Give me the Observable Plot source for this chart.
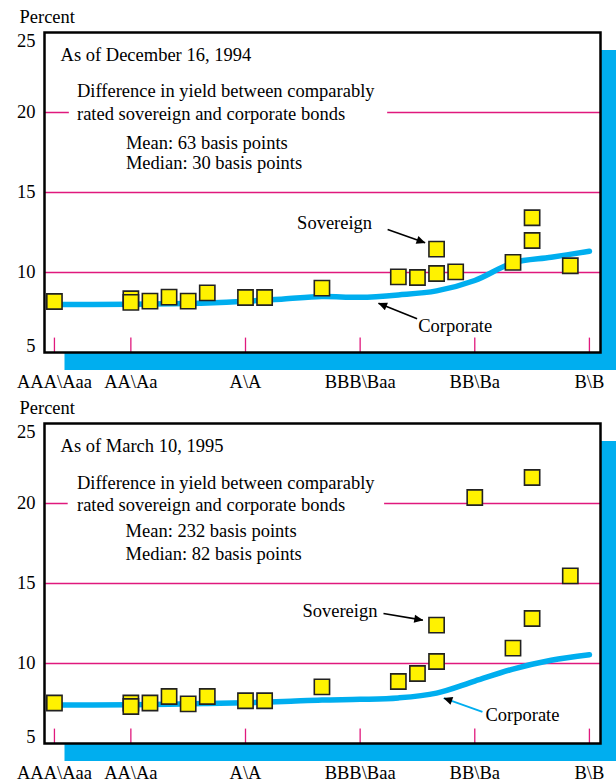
<!DOCTYPE html>
<html>
<head>
<meta charset="utf-8">
<script src="https://cdn.jsdelivr.net/npm/d3@7"></script>
<script src="https://cdn.jsdelivr.net/npm/@observablehq/plot@0.6"></script>
<style>
  html, body { margin: 0; padding: 0; background: #fff; }
  #chart svg { display: block; }
</style>
</head>
<body>
<div id="chart"></div>
<script>
// ---------- DATA ----------
const ratingNotch  = [0, 2, 5, 8, 11, 14];
const ratingLabels = ["AAA\\Aaa", "AA\\Aa", "A\\A", "BBB\\Baa", "BB\\Ba", "B\\B"];
const yTicks = [25, 20, 15, 10, 5];
const gridValues = [10, 15, 20];

// Corporate yield curve (by rating notch)
const corpNotch  = [0, 1, 2, 3, 4, 5, 6, 7, 8, 9, 10, 11, 12, 13, 14];
const corpYield1 = [8.0, 8.0, 8.02, 8.05, 8.1, 8.2, 8.35, 8.5, 8.45, 8.6, 8.85, 9.5, 10.6, 10.95, 11.33];
const corpYield2 = [7.4, 7.4, 7.42, 7.45, 7.5, 7.55, 7.62, 7.72, 7.76, 7.85, 8.15, 8.9, 9.65, 10.2, 10.55];

// Sovereign yields (by rating notch)
const sovNotch1 = [0, 2, 2, 2.5, 3, 3.5, 4, 5, 5.5, 7, 9, 9.5, 10, 10, 10.5, 12, 12.5, 12.5, 13.5];
const sovYield1 = [8.19, 8.36, 8.13, 8.21, 8.46, 8.21, 8.73, 8.44, 8.44, 9.02, 9.73, 9.69, 9.94, 11.46, 10.04, 10.63, 12.0, 13.42, 10.42];
const sovNotch2 = [0, 2, 2, 2.5, 3, 3.5, 4, 5, 5.5, 7, 9, 9.5, 10, 10, 11, 12, 12.5, 12.5, 13.5];
const sovYield2 = [7.53, 7.53, 7.31, 7.53, 7.94, 7.48, 7.94, 7.67, 7.67, 8.54, 8.875, 9.375, 10.125, 12.4, 20.375, 10.96, 21.625, 12.81, 15.48];

const notes1 = ["As of December 16, 1994", "Difference in yield between comparably", "rated sovereign and corporate bonds", "Mean: 63 basis points", "Median: 30 basis points"];
const notes2 = ["As of March 10, 1995", "Difference in yield between comparably", "rated sovereign and corporate bonds", "Mean: 232 basis points", "Median: 82 basis points"];
const seriesLabels = ["Sovereign", "Corporate"];

// ---------- LAYOUT / STYLE ----------
const BLUE = "#00aeef", PINK = "#e0197d", YELLOW = "#fff200";
const FONT = "Liberation Serif", FS = 18.5;

const layout1 = {
  noteX: [0.16, 0.59, 0.59, 1.87, 1.87],
  noteY: [23.56, 21.33, 19.92, 18.08, 16.81],
  gap: {x1: 0.39, x2: 8.72},
  labelX: [6.35, 9.52], labelY: [13.08, 6.64],
  arrows: [
    {x1: 8.72, y1: 12.69, x2: 9.70, y2: 11.86, color: "#000"},
    {x1: 9.49, y1: 7.11, x2: 8.48, y2: 8.08, color: "#000"}
  ]
};
const layout2 = {
  noteX: [0.16, 0.59, 0.59, 1.86, 1.86],
  noteY: [23.6, 21.25, 19.9, 18.25, 16.84],
  gap: {x1: 0.36, x2: 8.64},
  labelX: [6.49, 11.28], labelY: [13.29, 6.8],
  arrows: [
    {x1: 8.61, y1: 13.125, x2: 9.64, y2: 12.71, color: "#000"},
    {x1: 11.2, y1: 6.98, x2: 10.19, y2: 7.84, color: BLUE}
  ]
};

let markerCount = 0;
function addArrowHeads(svg) {
  const ns = "http://www.w3.org/2000/svg";
  const id = "arrowhead-" + (markerCount++);
  const defs = document.createElementNS(ns, "defs");
  const marker = document.createElementNS(ns, "marker");
  marker.setAttribute("id", id);
  marker.setAttribute("viewBox", "0 0 10 10");
  marker.setAttribute("refX", "9.5");
  marker.setAttribute("refY", "5");
  marker.setAttribute("markerWidth", "13");
  marker.setAttribute("markerHeight", "9");
  marker.setAttribute("markerUnits", "userSpaceOnUse");
  marker.setAttribute("orient", "auto");
  const path = document.createElementNS(ns, "path");
  path.setAttribute("d", "M0,0.5L10,5L0,9.5Z");
  path.setAttribute("fill", "#000");
  marker.appendChild(path);
  defs.appendChild(marker);
  svg.insertBefore(defs, svg.firstChild);
  svg.querySelectorAll('g[aria-label="link"] path, g[aria-label="link"] line').forEach(p => p.setAttribute("marker-end", `url(#${id})`));
}

function panel(corpYield, sovNotch, sovYield, notes, L) {
  const corp = corpNotch.map((n, i) => ({n, v: corpYield[i]}));
  const sov = sovNotch.map((n, i) => ({n, v: sovYield[i]}));
  const noteData = notes.map((t, i) => ({t, x: L.noteX[i], y: L.noteY[i]}));
  const labData = seriesLabels.map((t, i) => ({t, x: L.labelX[i], y: L.labelY[i]}));
  const textStyle = {fontFamily: FONT, fontSize: FS, fill: "#000"};
  const svg = Plot.plot({
    width: 616, height: 391,
    marginTop: 32, marginBottom: 39, marginLeft: 44, marginRight: 16,
    style: {fontFamily: FONT, fontSize: FS + "px", background: "white", overflow: "visible"},
    x: {domain: [-0.26, 14.29], axis: null},
    y: {domain: [5, 25], axis: null},
    marks: [
      Plot.frame({fill: BLUE, dx: 20, dy: 17.5}),
      Plot.frame({fill: "white"}),
      Plot.ruleY(gridValues, {stroke: PINK, strokeWidth: 1.3}),
      Plot.rect([L.gap], {x1: "x1", x2: "x2", y1: 19.6, y2: 20.4, fill: "white"}),
      Plot.ruleX(ratingNotch, {x: d => d, y1: 5, y2: 5.9, stroke: PINK, strokeWidth: 1.3}),
      Plot.line(corp, {x: "n", y: "v", stroke: BLUE, strokeWidth: 5.5, curve: "catmull-rom"}),
      Plot.dot(sov, {x: "n", y: "v", symbol: "square", r: 8.6, fill: YELLOW, stroke: "#222", strokeWidth: 1.6}),
      Plot.text(noteData, {x: "x", y: "y", text: "t", textAnchor: "start", lineAnchor: "middle", ...textStyle}),
      Plot.text(labData, {x: "x", y: "y", text: "t", textAnchor: "start", lineAnchor: "middle", ...textStyle}),
      Plot.link(L.arrows.filter(a => a.color === "#000"), {x1: "x1", y1: "y1", x2: "x2", y2: "y2", stroke: "#000", strokeWidth: 1.6}),
      Plot.link(L.arrows.filter(a => a.color !== "#000"), {x1: "x1", y1: "y1", x2: "x2", y2: "y2", stroke: BLUE, strokeWidth: 1.8}),
      Plot.frame({stroke: "#000", strokeWidth: 2.5}),
      Plot.text(yTicks.filter(v => v !== 25 && v !== 5), {y: d => d, text: d => String(d), frameAnchor: "left", dx: -9, textAnchor: "end", lineAnchor: "middle", ...textStyle}),
      Plot.text(yTicks.filter(v => v === 25), {y: d => d, text: d => String(d), frameAnchor: "left", dx: -9, dy: 9, textAnchor: "end", lineAnchor: "middle", ...textStyle}),
      Plot.text(yTicks.filter(v => v === 5), {y: d => d, text: d => String(d), frameAnchor: "left", dx: -9, dy: -6, textAnchor: "end", lineAnchor: "middle", ...textStyle}),
      Plot.text(ratingNotch, {x: d => d, text: (d, i) => ratingLabels[i], frameAnchor: "bottom", dy: 29.5, textAnchor: "middle", lineAnchor: "middle", ...textStyle}),
      Plot.text(["Percent"], {text: d => d, frameAnchor: "top-left", dx: -25, dy: -15, textAnchor: "start", lineAnchor: "middle", ...textStyle})
    ]
  });
  addArrowHeads(svg);
  return svg;
}

const chart = document.getElementById("chart");
chart.appendChild(panel(corpYield1, sovNotch1, sovYield1, notes1, layout1));
chart.appendChild(panel(corpYield2, sovNotch2, sovYield2, notes2, layout2));
</script>
</body>
</html>
